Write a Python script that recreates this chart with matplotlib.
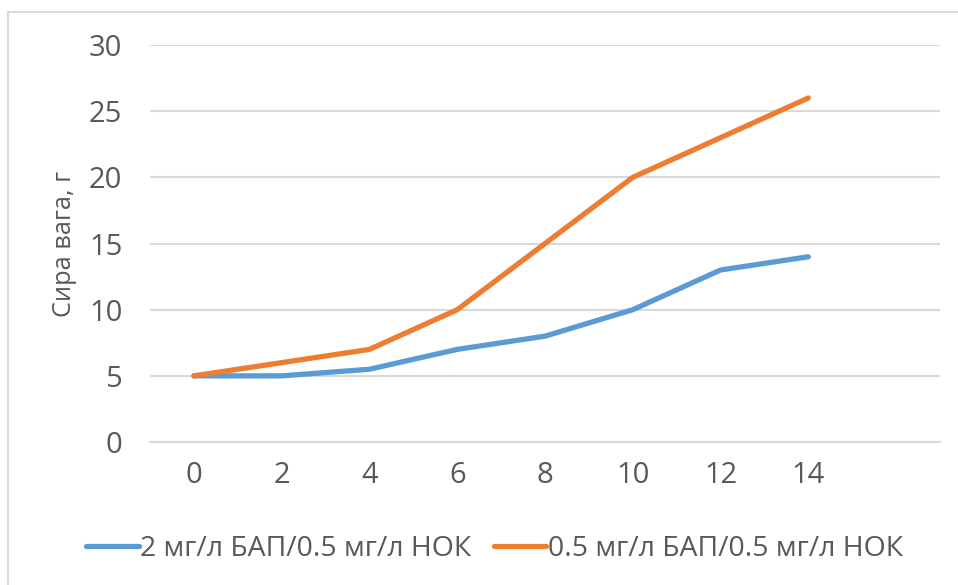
import matplotlib.pyplot as plt
from matplotlib.patches import Rectangle

days = [0, 2, 4, 6, 8, 10, 12, 14]
mass_bap2 = [5, 5, 5.5, 7, 8, 10, 13, 14]
mass_bap05 = [5, 6, 7, 10, 15, 20, 23, 26]
series_labels = ["2 мг/л БАП/0.5 мг/л НОК", "0.5 мг/л БАП/0.5 мг/л НОК"]
y_ticks = [0, 5, 10, 15, 20, 25, 30]

plt.rcParams["font.family"] = ["Open Sans", "DejaVu Sans"]
text_color = "#595959"
grid_color = "#d9d9d9"

fig = plt.figure(figsize=(9.58, 5.85), dpi=100)
ax = fig.add_axes([0.1566, 0.2444, 0.8246, 0.6786])

# category axis: one empty slot after the last day, like a spreadsheet chart
pos = list(range(len(days)))
ax.plot(pos, mass_bap2, color="#5B9BD5", lw=3.8, solid_capstyle="round",
        solid_joinstyle="round", label=series_labels[0])
ax.plot(pos, mass_bap05, color="#ED7D31", lw=3.8, solid_capstyle="round",
        solid_joinstyle="round", label=series_labels[1])

ax.set_xlim(-0.5, len(days) + 0.5)
ax.set_ylim(0, 30)
ax.set_xticks(pos)
ax.set_xticklabels([str(d) for d in days])
ax.set_yticks(y_ticks)
ax.yaxis.grid(True, color=grid_color, lw=1.5)
ax.set_axisbelow(True)
for side in ["top", "right", "left"]:
    ax.spines[side].set_visible(False)
ax.spines["bottom"].set_color(grid_color)
ax.spines["bottom"].set_linewidth(1.5)
ax.tick_params(length=0, labelsize=21, colors=text_color)
ax.tick_params(axis="x", pad=14)
ax.tick_params(axis="y", pad=20)
ax.set_ylabel("Сира вага, г", fontsize=18.3, color=text_color)
ax.yaxis.set_label_coords(-0.093, 0.5)

fig.legend(loc="center", bbox_to_anchor=(0.516, 0.062), ncol=2, frameon=False,
           fontsize=20.4, handlelength=1.85, handletextpad=0.05, columnspacing=0.8,
           labelcolor=text_color)

# light chart-area border
fig.patches.append(Rectangle((8 / 958, -0.1), 1.2, 1.1 - 12 / 585,
                             transform=fig.transFigure, fill=False,
                             edgecolor=grid_color, lw=1.5))

fig.savefig("out.png", dpi=100)
